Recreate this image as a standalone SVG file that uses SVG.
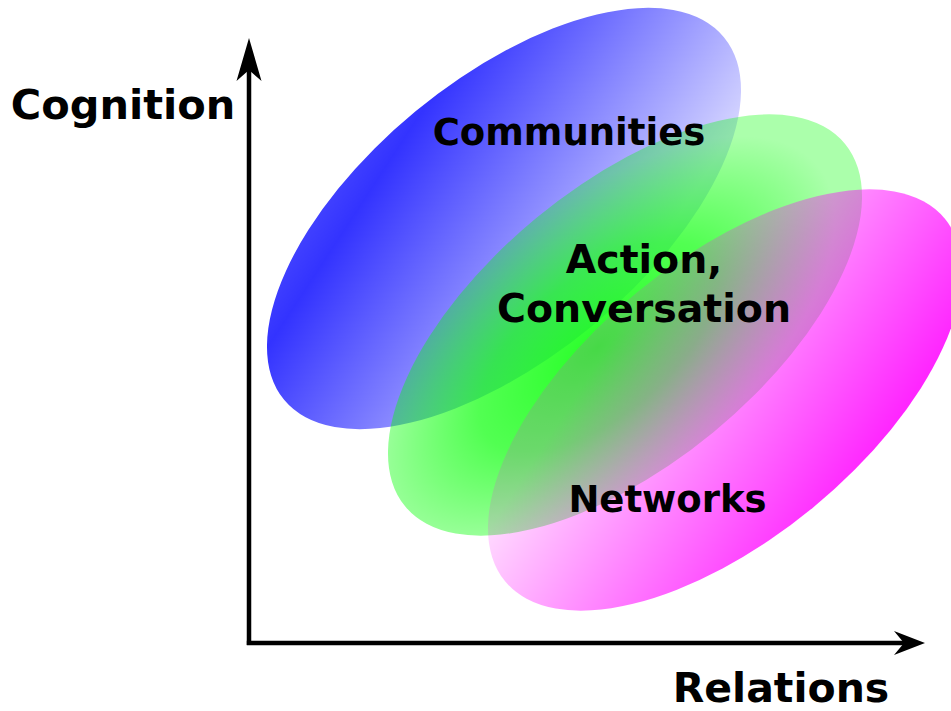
<svg xmlns="http://www.w3.org/2000/svg" width="951" height="711" viewBox="0 0 951 711">
<style>
.lbl{font-family:"DejaVu Sans","Liberation Sans",sans-serif;font-weight:bold;fill:#000;text-anchor:middle}
.axis{stroke:#000;stroke-width:4.5;fill:none}
.head{fill:#000;stroke:none}
</style>
<defs>
<linearGradient id="gBlue" gradientUnits="userSpaceOnUse" x1="292.6" y1="200" x2="569.8" y2="381.5">
<stop offset="0" stop-color="#0000ff" stop-opacity="0.7"/>
<stop offset="0.18" stop-color="#0000ff" stop-opacity="0.8"/>
<stop offset="1" stop-color="#0000ff" stop-opacity="0.17"/>
</linearGradient>
<radialGradient id="gGreen" gradientUnits="userSpaceOnUse" cx="0" cy="0" r="1" gradientTransform="translate(598,347) rotate(-39.5) scale(285,139)">
<stop offset="0" stop-color="#00ff00" stop-opacity="0.85"/>
<stop offset="0.5" stop-color="#00ff00" stop-opacity="0.68"/>
<stop offset="1" stop-color="#00ff00" stop-opacity="0.33"/>
</radialGradient>
<linearGradient id="gMag" gradientUnits="userSpaceOnUse" x1="829.8" y1="521" x2="594.6" y2="367">
<stop offset="0" stop-color="#ff00ff" stop-opacity="0.85"/>
<stop offset="1" stop-color="#ff00ff" stop-opacity="0.15"/>
</linearGradient>
</defs>
<rect width="951" height="711" fill="#fff"/>
<g id="communities">
<path d="M723.9,37.2 A285,139 -39.5 1 0 284.1,399.8 A285,139 -39.5 1 0 723.9,37.2 Z" fill="url(#gBlue)"/>
</g>
<g id="action">
<path d="M844.9,143.7 A285,139 -39.5 1 0 405.1,506.3 A285,139 -39.5 1 0 844.9,143.7 Z" fill="url(#gGreen)"/>
</g>
<g id="networks">
<path d="M944.9,218.7 A285,139 -39.5 1 0 505.1,581.3 A285,139 -39.5 1 0 944.9,218.7 Z" fill="url(#gMag)"/>
</g>
<g id="labels">
<text class="lbl" x="569" y="145" font-size="37">Communities</text>
<text class="lbl" x="644" y="273" font-size="39.5">Action,</text>
<text class="lbl" x="644" y="322" font-size="39.5">Conversation</text>
<text class="lbl" x="667.5" y="512" font-size="37">Networks</text>
</g>
<g id="connectors">
<line class="axis" x1="249" y1="645" x2="249" y2="68"/>
<polygon class="head" points="249,38 261.5,81 249,70 236.5,81"/>
<line class="axis" x1="246.8" y1="643" x2="905" y2="643"/>
<polygon class="head" points="925,643 894,655 904,643 894,631"/>
</g>
<g id="axis-labels">
<text class="lbl" x="123" y="119" font-size="41.5">Cognition</text>
<text class="lbl" x="781" y="702" font-size="41">Relations</text>
</g>
</svg>
